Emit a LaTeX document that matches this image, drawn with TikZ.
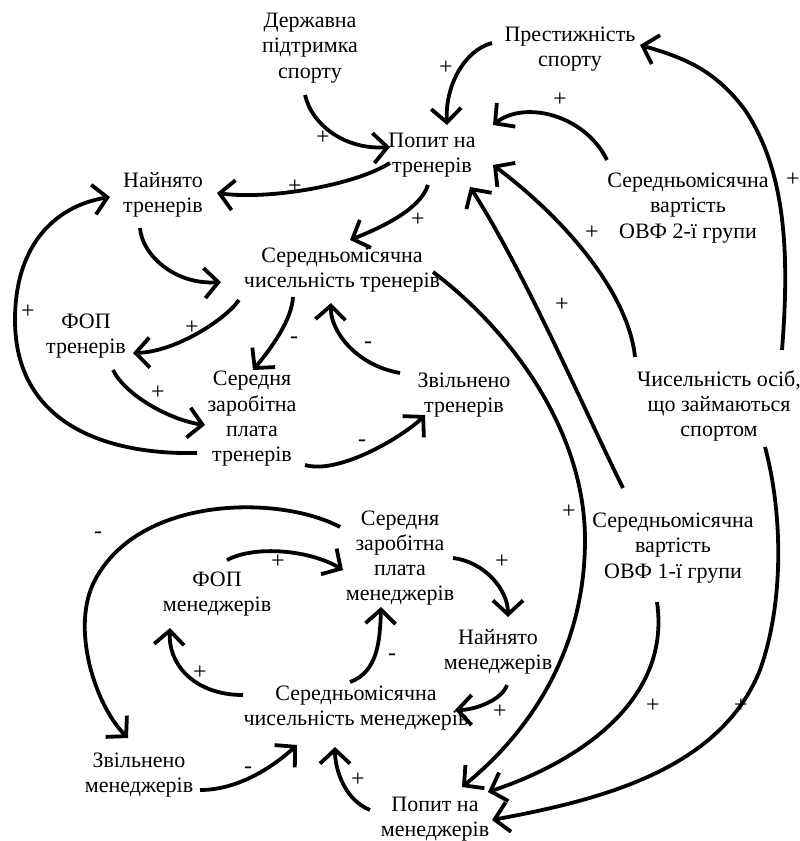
\documentclass[tikz,border=0pt]{standalone}
\usepackage{fontspec}
\setmainfont{Liberation Serif}
\usetikzlibrary{arrows.meta}
\begin{document}
\begin{tikzpicture}[x=1pt,y=-1pt,
  lbl/.style={font=\fontsize{22}{25.3}\selectfont, align=center, inner sep=0pt},
  sgn/.style={font=\fontsize{24}{26}\selectfont, inner sep=0pt},
  arr/.style={line width=3.8pt, -{Straight Barb[length=14pt,width=30pt,line width=3.8pt]}}]
\useasboundingbox (0,0) rectangle (800,841);
% nodes
\node[lbl] (dps) at (310,48) {Державна\\підтримка\\спорту};
\node[lbl] (prest) at (570,49) {Престижність\\спорту};
\node[lbl] (pt) at (432,155) {Попит на\\тренерів};
\node[lbl] (nt) at (163,195) {Найнято\\тренерів};
\node[lbl] (ovf2) at (688,208) {Середньомісячна\\вартість\\ОВФ 2-ї групи};
\node[lbl] (sct) at (342,270) {Середньомісячна\\чисельність тренерів};
\node[lbl] (fopt) at (86,336) {ФОП\\тренерів};
\node[lbl] (zpt) at (252,419) {Середня\\заробітна\\плата\\тренерів};
\node[lbl] (zvt) at (464,395) {Звільнено\\тренерів};
\node[lbl] (chos) at (719,406) {Чисельність осіб,\\що займаються\\спортом};
\node[lbl] (ovf1) at (673,548) {Середньомісячна\\вартість\\ОВФ 1-ї групи};
\node[lbl] (zpm) at (400,558) {Середня\\заробітна\\плата\\менеджерів};
\node[lbl] (fopm) at (217,594) {ФОП\\менеджерів};
\node[lbl] (nm) at (498,652) {Найнято\\менеджерів};
\node[lbl] (scm) at (356,708) {Середньомісячна\\чисельність менеджерів};
\node[lbl] (zvm) at (139,775) {Звільнено\\менеджерів};
\node[lbl] (pm) at (435,819) {Попит на\\менеджерів};
% connectors
\draw[arr] ([shift={(-5,47)}]dps.center) .. controls (312,125) and (345,150) .. ([shift={(-42,-8)}]pt.center);
\draw[arr] ([shift={(-78,-6)}]prest.center) .. controls (465,50) and (445,85) .. ([shift={(15,-30)}]pt.center);
\draw[arr] ([shift={(-81,-48)}]ovf2.center) .. controls (585,115) and (525,100) .. ([shift={(61,-30)}]pt.center);
\draw[arr] ([shift={(63,-56)}]chos.center) .. controls (790,250) and (785,170) .. (745,110) .. controls (715,70) and (685,58) .. ([shift={(70,-4)}]prest.center);
\draw[arr] ([shift={(-84,-49)}]chos.center) .. controls (628,290) and (560,215) .. ([shift={(61,10)}]pt.center);
\draw[arr] ([shift={(-50,-60)}]ovf1.center) .. controls (588,418) and (525,272) .. ([shift={(38,32)}]pt.center);
\draw[arr] ([shift={(-42,8)}]pt.center) .. controls (355,185) and (270,200) .. ([shift={(54,-2)}]nt.center);
\draw[arr] ([shift={(-4,30)}]pt.center) .. controls (420,210) and (380,228) .. ([shift={(8,-30)}]sct.center);
\draw[arr] ([shift={(-23,33)}]nt.center) .. controls (142,255) and (175,285) .. ([shift={(-121,12)}]sct.center);
\draw[arr] ([shift={(-103,30)}]sct.center) .. controls (225,320) and (175,352) .. ([shift={(47,17)}]fopt.center);
\draw[arr] ([shift={(-49,27)}]sct.center) .. controls (292,320) and (270,350) .. ([shift={(1,-49)}]zpt.center);
\draw[arr] ([shift={(-64,-22)}]zvt.center) .. controls (355,365) and (330,330) .. ([shift={(-11,33)}]sct.center);
\draw[arr] ([shift={(27,34)}]fopt.center) .. controls (125,395) and (170,420) .. ([shift={(-47,6)}]zpt.center);
\draw[arr] ([shift={(-55,34)}]zpt.center) .. controls (100,455) and (15,420) .. (15,320) .. controls (15,240) and (60,205) .. ([shift={(-53,2)}]nt.center);
\draw[arr] ([shift={(53,46)}]zpt.center) .. controls (340,475) and (405,435) .. ([shift={(-39,20)}]zvt.center);
\draw[arr] ([shift={(91,2)}]sct.center) .. controls (510,330) and (585,430) .. (585,540) .. controls (585,660) and (520,740) .. ([shift={(27,-32)}]pm.center);
\draw[arr] ([shift={(46,41)}]chos.center) .. controls (782,510) and (785,600) .. (760,670) .. controls (720,770) and (600,800) .. ([shift={(57,1)}]pm.center);
\draw[arr] ([shift={(-16,54)}]ovf1.center) .. controls (672,705) and (570,765) .. ([shift={(53,-27)}]pm.center);
\draw[arr] ([shift={(53,0)}]zpm.center) .. controls (485,562) and (508,590) .. ([shift={(10,-35)}]nm.center);
\draw[arr] ([shift={(9,33)}]nm.center) .. controls (502,700) and (475,710) .. ([shift={(99,2)}]scm.center);
\draw[arr] ([shift={(-113,-13)}]scm.center) .. controls (195,695) and (168,665) .. ([shift={(-47,34)}]fopm.center);
\draw[arr] ([shift={(-6,-26)}]scm.center) .. controls (378,672) and (380,640) .. ([shift={(-19,49)}]zpm.center);
\draw[arr] ([shift={(10,-34)}]fopm.center) .. controls (255,545) and (310,550) .. ([shift={(-57,12)}]zpm.center);
\draw[arr] ([shift={(-60,-31)}]zpm.center) .. controls (280,495) and (140,495) .. (95,580) .. controls (70,627) and (95,705) .. ([shift={(-11,-37)}]zvm.center);
\draw[arr] ([shift={(61,15)}]zvm.center) .. controls (240,790) and (275,765) .. ([shift={(-59,37)}]scm.center);
\draw[arr] ([shift={(-65,-9)}]pm.center) .. controls (345,800) and (335,770) .. ([shift={(-21,39)}]scm.center);
% polarity signs
\node[sgn] (s1) at (323,138) {+};
\node[sgn] (s2) at (446,68) {+};
\node[sgn] (s3) at (560,100) {+};
\node[sgn] (s4) at (793,180) {+};
\node[sgn] (s5) at (592,233) {+};
\node[sgn] (s6) at (562,305) {+};
\node[sgn] (s7) at (295,187) {+};
\node[sgn] (s8) at (418,220) {+};
\node[sgn] (s10) at (192,328) {+};
\node[sgn] (s11) at (294,340) {-};
\node[sgn] (s12) at (368,345) {-};
\node[sgn] (s13) at (158,393) {+};
\node[sgn] (s14) at (28,312) {+};
\node[sgn] (s15) at (362,443) {-};
\node[sgn] (s16) at (569,512) {+};
\node[sgn] (s17) at (741,706) {+};
\node[sgn] (s18) at (653,706) {+};
\node[sgn] (s19) at (502,562) {+};
\node[sgn] (s20) at (500,712) {+};
\node[sgn] (s21) at (200,673) {+};
\node[sgn] (s22) at (392,657) {-};
\node[sgn] (s23) at (278,562) {+};
\node[sgn] (s24) at (98,535) {-};
\node[sgn] (s25) at (248,770) {-};
\node[sgn] (s26) at (358,780) {+};
\end{tikzpicture}
\end{document}
